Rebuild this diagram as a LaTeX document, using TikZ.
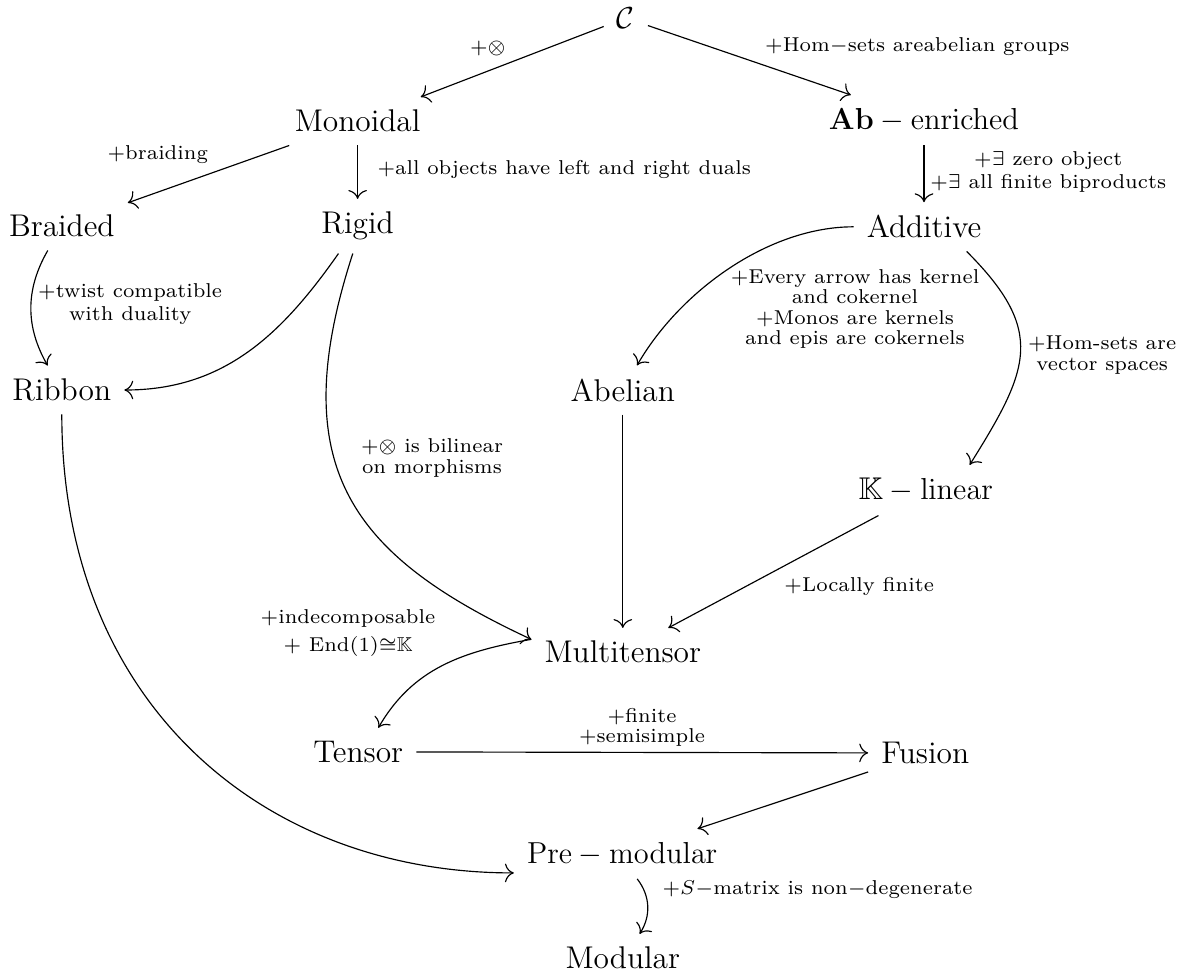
\documentclass[tikz,border=0pt]{standalone}
\usepackage{amsmath,amssymb}
\usetikzlibrary{arrows.meta}
\begin{document}
\begin{tikzpicture}[>={To[scale=1.5]}, line width=0.55pt]
        \tikzstyle{cat}=[font=\fontsize{14.9}{18}\selectfont, inner sep=6pt]
        \tikzstyle{lbl}=[font=\fontsize{7}{7.2}\selectfont, scale=1.36, align=center]
        \useasboundingbox (0,0) rectangle (19.7,-16.25);
        \node[cat] (c)   at (10.43,-0.30) {$\mathcal{C}$};
        \node[cat] (mon) at (5.96,-2.02)  {Monoidal};
        \node[cat] (ab)  at (15.40,-2.00) {$\mathbf{Ab}-\mathrm{enriched}$};
        \node[cat] (brd) at (1.03,-3.77)  {Braided};
        \node[cat] (rig) at (5.96,-3.77)  {Rigid};
        \node[cat] (add) at (15.40,-3.78) {Additive};
        \node[cat] (rib) at (1.03,-6.50)  {Ribbon};
        \node[cat] (abl) at (10.38,-6.50) {Abelian};
        \node[cat] (kl)  at (15.43,-8.17) {$\mathbb{K}-\mathrm{linear}$};
        \node[cat] (mt)  at (10.38,-10.87) {Multitensor};
        \node[cat] (ten) at (5.97,-12.53) {Tensor};
        \node[cat] (fus) at (15.42,-12.55) {Fusion};
        \node[cat] (pm)  at (10.37,-14.23) {$\mathrm{Pre}-\mathrm{modular}$};
        \node[cat] (mod) at (10.38,-15.97) {Modular};
        \node[lbl] (lten)   at (8.13,-0.80) {+$\otimes$};
        \node[lbl, anchor=west] (lhom) at (12.58,-0.77) {+Hom$-$sets areabelian groups};
        \node[lbl] (lbraid) at (2.63,-2.58) {+braiding};
        \node[lbl, anchor=west] (ldual) at (6.12,-2.83) {+all objects have left and right duals};
        \node[lbl] (lzero)  at (17.47,-2.87) {+$\exists$ zero object\\[1pt]+$\exists$ all finite biproducts};
        \node[lbl] (ltwist) at (2.17,-5.07) {+twist compatible\\[1pt]with duality};
        \node[lbl] (lker)   at (14.25,-5.15) {+Every arrow has kernel\\and cokernel\\+Monos are kernels\\and epis are cokernels};
        \node[lbl] (lvect)  at (18.37,-5.92) {+Hom-sets are\\vector spaces};
        \node[lbl] (lbil)   at (7.20,-7.63) {+$\otimes$ is bilinear\\on morphisms};
        \node[lbl] (lloc)   at (14.32,-9.78) {+Locally finite};
        \node[lbl] (lind)   at (5.80,-10.55) {+indecomposable\\[2.5pt]$+$ End(1)${\cong}\mathbb{K}$};
        \node[lbl] (lfin)   at (10.70,-12.12) {+finite\\+semisimple};
        \node[lbl, anchor=west] (lsmat) at (10.87,-14.83) {+$S$$-$matrix is non$-$degenerate};
        \draw[->] (c) -- (mon);
        \draw[->] (c) -- (ab);
        \draw[->] (mon) -- (brd);
        \draw[->] (mon) -- (rig);
        \draw[->] (ab) -- (add);
        \draw[->] (brd) to[bend right=30] (rib);
        \draw[->] (rig) to[out=-125,in=0] (rib);
        \draw[->] (rig.-100) to[out=-108,in=155,out looseness=1.35,in looseness=1.2] (mt.172);
        \draw[->] (add) to[out=180,in=60,looseness=0.85] (abl);
        \draw[->] (add.-30) to[out=-45,in=58,looseness=1.35] (kl.30);
        \draw[->] (abl) -- (mt);
        \draw[->] (kl) -- (mt);
        \draw[->] (mt.172) to[out=190,in=60] (ten.50);
        \draw[->] (ten) -- (fus);
        \draw[->] (fus) -- (pm);
        \draw[->] (rib) to[out=-90,in=180,out looseness=1.15] (pm.190);
        \draw[->] ([xshift=0.25cm]pm.south) to[bend left=35] ([xshift=0.28cm]mod.north);
\end{tikzpicture}
\end{document}
